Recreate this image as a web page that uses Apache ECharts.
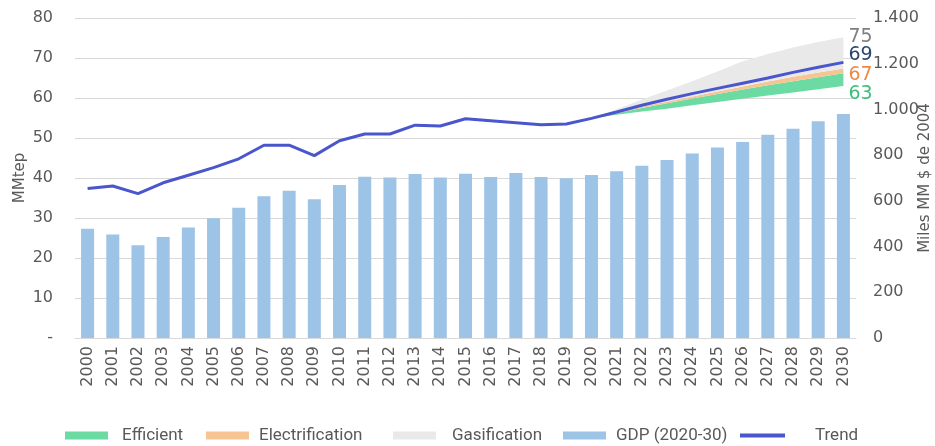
<!DOCTYPE html>
<html><head><meta charset="utf-8">
<script src="https://cdn.jsdelivr.net/npm/echarts@6/dist/echarts.min.js"></script>
<style>html,body{margin:0;padding:0;background:#fff}#c{width:935px;height:446px}</style>
</head><body><div id="c"></div>
<script>
var years = ['2000','2001','2002','2003','2004','2005','2006','2007','2008','2009','2010','2011','2012','2013','2014','2015','2016','2017','2018','2019','2020','2021','2022','2023','2024','2025','2026','2027','2028','2029','2030'];
var gdp = [478,453,406,442,483,524,570,620,644,607,669,706,702,718,702,719,704,722,704,699,713,729,754,779,807,833,858,889,915,948,980];
var trend = [37.4,38.0,36.1,38.8,40.7,42.6,44.8,48.2,48.2,45.6,49.3,51.0,51.0,53.2,53.0,54.8,54.3,53.8,53.3,53.5,54.9,56.5,58.2,59.7,61.1,62.4,63.7,65.0,66.4,67.7,68.9];
// scenario band edges (MMtep), projection period only
var efficientLow  = [null,null,null,null,null,null,null,null,null,null,null,null,null,null,null,null,null,null,null,null,54.9,55.8,56.6,57.3,58.2,59.0,59.8,60.6,61.4,62.2,63.0];
var efficientHigh = [null,null,null,null,null,null,null,null,null,null,null,null,null,null,null,null,null,null,null,null,54.9,56.2,57.5,58.7,59.9,61.0,62.1,63.2,64.2,65.2,66.2];
var electrificationHigh = [null,null,null,null,null,null,null,null,null,null,null,null,null,null,null,null,null,null,null,null,54.9,56.4,57.8,59.1,60.4,61.6,62.9,64.1,65.3,66.4,67.4];
var gasificationHigh = [null,null,null,null,null,null,null,null,null,null,null,null,null,null,null,null,null,null,null,null,54.9,57.2,59.6,61.9,64.2,66.6,69.2,71.0,72.6,74.0,75.2];
var endLabels = {gasification:'75', trend:'69', electrification:'67', efficient:'63'};
var leftTicks = {0:'-'};

function diff(a,b){return a.map(function(v,i){return (v==null||b[i]==null)?'-':+(v-b[i]).toFixed(2);});}
function orDash(a){return a.map(function(v){return v==null?'-':v;});}

var FONT = 'DejaVu Sans';
var LG = 'Roboto';
var chart = echarts.init(document.getElementById('c'));

function leg(name,left,padL,opts){
  var o = {data:[name], left:left, top:427, padding:0, itemWidth:43, itemHeight:8, icon:'rect',
    textStyle:{fontFamily:LG, fontSize:17, color:'#595959', padding:[0,0,0,padL]}};
  if(opts){for(var k in opts)o[k]=opts[k];}
  return o;
}

chart.setOption({
  animation:false,
  grid:{left:75, right:79, top:18, bottom:108, outerBoundsMode:'none', containLabel:false},
  legend:[
    leg('Efficient',65,9),
    leg('Electrification',206,5),
    leg('Gasification',393,11),
    leg('GDP (2020-30)',563,5),
    leg('Trend',740,25,{itemWidth:45,itemHeight:4})
  ],
  xAxis:{type:'category', data:years, boundaryGap:true,
    axisLine:{lineStyle:{color:'#d9d9d9'}}, axisTick:{show:false},
    axisLabel:{rotate:90, interval:0, margin:8, fontFamily:FONT, fontSize:16, color:'#595959'}},
  yAxis:[
    {type:'value', min:0, max:80, interval:10, name:'MMtep', nameLocation:'middle', nameGap:47, nameRotate:90, nameMoveOverlap:false,
     nameTextStyle:{fontFamily:FONT, fontSize:15, color:'#595959'},
     axisLine:{show:false}, axisTick:{show:false},
     axisLabel:{margin:22, fontFamily:FONT, fontSize:16, color:'#595959',
       formatter:function(v){return leftTicks[v]!==undefined?leftTicks[v]:String(v);}},
     splitLine:{lineStyle:{color:'#d9d9d9'}}},
    {type:'value', min:0, max:1400, interval:200, name:'Miles MM $ de 2004', nameLocation:'middle', nameGap:62, nameRotate:90, nameMoveOverlap:false,
     nameTextStyle:{fontFamily:FONT, fontSize:15, color:'#595959'},
     axisLine:{show:false}, axisTick:{show:false}, splitLine:{show:false},
     axisLabel:{margin:17, fontFamily:FONT, fontSize:16, color:'#595959',
       formatter:function(v){return String(v).replace(/\B(?=(\d{3})+(?!\d))/g,'.');}}}
  ],
  series:[
    {name:'GDP (2020-30)', type:'bar', yAxisIndex:1, data:gdp, barWidth:13, itemStyle:{color:'#9dc3e6'}, z:1},
    {name:'base', type:'line', stack:'s', data:orDash(efficientLow), showSymbol:false, lineStyle:{width:0, opacity:0}, z:2,
     endLabel:{show:true, formatter:endLabels.efficient, offset:[-3,8], fontFamily:FONT, fontSize:19, color:'#3dbf7c'}},
    {name:'Efficient', type:'line', stack:'s', data:diff(efficientHigh,efficientLow), showSymbol:false, lineStyle:{width:0}, itemStyle:{color:'#6cdaa3'}, areaStyle:{color:'#6cdaa3', opacity:1}, z:2},
    {name:'Electrification', type:'line', stack:'s', data:diff(electrificationHigh,efficientHigh), showSymbol:false, lineStyle:{width:0}, itemStyle:{color:'#f7c593'}, areaStyle:{color:'#f7c593', opacity:1}, z:2,
     endLabel:{show:true, formatter:endLabels.electrification, offset:[-3,7], fontFamily:FONT, fontSize:19, color:'#e98a4c'}},
    {name:'Gasification', type:'line', stack:'s', data:diff(gasificationHigh,electrificationHigh), showSymbol:false, lineStyle:{width:0}, itemStyle:{color:'#e9e9e9'}, areaStyle:{color:'#e9e9e9', opacity:1}, z:2,
     endLabel:{show:true, formatter:endLabels.gasification, offset:[-3,0], fontFamily:FONT, fontSize:19, color:'#7f7f7f'}},
    {name:'Trend', type:'line', data:trend, showSymbol:false, lineStyle:{width:3, color:'#4a56cc'}, itemStyle:{color:'#4a56cc'}, z:5,
     endLabel:{show:true, formatter:endLabels.trend, offset:[-3,-7], fontFamily:FONT, fontSize:19, color:'#2b4770'}}
  ]
});
</script></body></html>
